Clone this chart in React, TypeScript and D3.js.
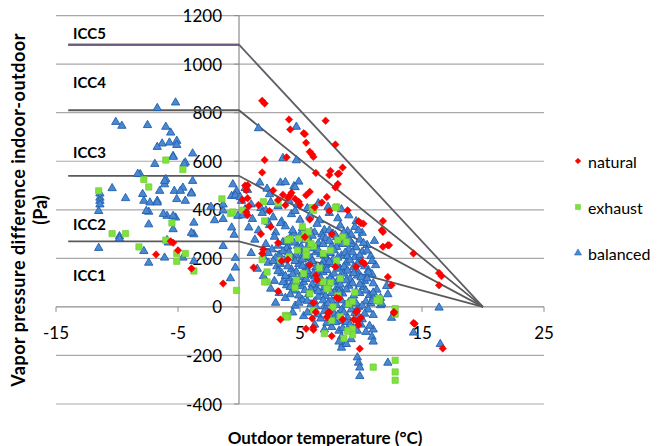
import React from 'react';
import * as d3 from 'd3';

// ---- data ----
const xTicks = [-15, -5, 5, 15, 25];
const yTicks = [-400, -200, 0, 200, 400, 600, 800, 1000, 1200];

// ICC class boundaries: flat up to 0 °C, then falling to 0 Pa at 20 °C
const iccLevels = [270, 540, 810, 1080];
const iccLabels = ['ICC1', 'ICC2', 'ICC3', 'ICC4', 'ICC5'];
const iccLabelValues = [130, 340, 640, 925, 1127];

const seriesNames = ['natural', 'exhaust', 'balanced'];

const naturalPoints: [number, number][] = [
  [1.9, 849], [2.1, 838], [4.1, 772], [4.2, 731], [7.1, 767], [5.3, 715], [5.5, 676], [5.8, 639],
  [6.1, 618], [7.9, 669], [2.1, 605], [3.9, 616], [1.9, 554], [6.3, 552], [7.5, 560], [7.4, 543],
  [8.1, 547], [8.5, 574], [8.1, 506], [7.9, 492], [7.2, 453], [5.8, 474], [5.5, 460], [4.2, 460],
  [4.0, 450], [8.2, 550], [8.9, 398], [9.8, 353], [10.0, 345], [11.8, 354], [11.7, 316], [0.7, 501],
  [0.7, 448], [0.7, 378], [3.8, 419], [4.9, 433], [5.4, 712], [6.0, 628],
  [12.2, 254], [14.3, 220], [16.4, 140], [16.6, 127], [16.4, 89], [12.2, 123], [12.5, 89], [12.7, -21],
  [14.3, -66], [16.7, -171],
  [-6.8, 216], [-5.4, 264], [-5.0, 233], [-3.9, 158], [-1.3, 96], [-5.6, 270],
  [1.2, 162], [3.2, 264], [3.5, 189], [4.0, 195], [1.9, 220], [2.0, 236], [5.8, 172], [6.3, 130],
  [6.4, 111], [7.9, 165], [8.0, 38], [6.1, 16], [6.3, -21], [6.0, -48], [7.4, -21], [8.5, -52],
  [9.4, -52], [9.6, -21], [10.0, -45], [3.4, -52], [6.1, -85], [10.3, 178], [12.3, 254], [11.8, 309],
  [3.2, 64], [7.6, 300], [5.4, 288], [9.6, 165], [10.2, 343], [11.8, 248], [10.1, 185], [8.2, 35],
  [7.2, -42], [5.5, -90], [6.1, -94], [7.6, -120], [7.3, -24], [9.7, -60], [9.8, -75],
  [9.7, -17], [9.9, -172], [14.4, -69], [12.7, -25],
  [0.5, 500], [0.6, 480], [0.3, 440], [0.8, 415], [0.6, 390],
  [3.6, 462], [4.3, 470], [4.6, 445], [5.0, 420], [3.2, 440], [2.5, 395], [1.6, 420], [2.8, 480],
  [6.8, 430], [6.2, 410], [7.4, 395], [5.8, 360], [1.8, 300], [2.6, 330],
];

const exhaustPoints: [number, number][] = [
  [-6.0, 605], [-4.6, 566], [-7.8, 525], [-7.4, 494], [-11.5, 478], [-1.4, 445], [-10.4, 302], [-9.3, 302],
  [-8.2, 247], [-5.5, 346], [-6.0, 275], [-5.1, 220], [-5.1, 188], [-3.7, 148], [-0.2, 68], [-0.7, 385],
  [-4.4, 220],
  [1.9, 195], [2.3, 103], [3.8, -35], [4.6, 80], [5.4, 300], [5.5, 232], [5.3, 137], [6.1, 250],
  [7.3, 75], [8.1, 46], [11.5, 24], [12.8, -7], [5.5, 280], [4.2, 280], [7.5, 100], [8.5, 288],
  [8.3, -40], [7.6, -56], [4.0, -39], [12.8, -220], [12.8, -268], [12.8, -302], [11.0, -248], [9.3, -90],
  [9.3, -115], [12.8, -30], [11.5, 35], [11.3, 27],
  [2.0, 433], [-0.5, 391], [0.3, 398], [2.1, 354], [4.0, 275], [4.9, 282], [5.7, 309], [5.9, 260],
  [8.0, 412], [8.1, 275], [8.8, 268], [7.5, 233], [6.9, 220], [5.5, 213], [4.8, 233], [4.1, 206],
  [3.4, 192], [2.3, 144], [2.1, 103], [4.7, 110], [5.8, 55], [6.9, 103], [7.2, 75], [8.3, 117],
  [9.0, 13], [7.7, 0], [3.9, -42], [6.1, -14], [9.3, 22], [6.0, 409], [3.2, 428], [7.9, 409],
  [5.2, 330], [6.1, 398], [8.6, -130], [8.9, -100], [6.6, 160], [8.0, 190], [9.5, 60], [7.0, -110],
];

const balancedPoints: [number, number][] = [
  // cold side
  [-5.2, 845], [-6.7, 822], [-10.1, 765], [-9.6, 749], [-7.5, 752], [-6.0, 745], [-5.6, 721], [-6.3, 676],
  [-6.7, 662], [-5.7, 680], [-5.1, 687], [-5.1, 670], [-5.4, 625], [-3.8, 635], [-4.4, 598], [-8.1, 550],
  [-6.0, 529], [-6.1, 508], [-3.8, 522], [-10.4, 492], [-9.3, 451], [-6.5, 481], [-5.3, 481], [-4.6, 494],
  [-3.9, 474], [-7.8, 440], [-7.3, 433], [-6.7, 440], [-5.1, 447], [-4.4, 440], [-11.4, 470], [-11.4, 453],
  [-11.4, 440], [-11.4, 425], [-11.5, 398], [-11.5, 246], [-7.4, 343], [-9.8, 294], [-9.8, 285], [-7.8, 233],
  [-7.4, 185], [-6.1, 206], [-5.8, 268], [-4.6, 206], [-3.7, 192], [-3.7, 302], [-1.3, 254], [-0.7, 121],
  [-0.3, 165], [-5.2, 371], [-5.9, 378], [-7.4, 395], [-3.7, 350], [-0.6, 330], [-8.3, 551], [-6.9, 592],
  [-5.4, 621], [-4.5, 593], [-6.1, 522], [-7.9, 468], [-6.7, 433], [-4.8, 481], [-3.9, 470], [-7.6, 398],
  [-6.2, 386], [-5.4, 378], [-5.4, 323], [-5.9, 278], [-3.9, 308], [-1.3, 365], [-1.3, 400], [-1.3, 425],
  [-0.6, 460], [-0.5, 508], [-0.2, 480], [-0.3, 462], [0.1, 455], [-0.4, 300], [-2.3, 415], [-2.0, 360],
  // above the main cloud
  [1.6, 739], [4.7, 745], [3.6, 616], [4.7, 607], [1.7, 515], [3.4, 515], [3.8, 517], [4.9, 519],
  [4.5, 500], [2.3, 490], [0.5, 492], [0.7, 485], [2.5, 467], [4.6, 496], [8.4, 405], [-0.1, 378],
  // main cloud
  [0.2, 440], [1.0, 425], [1.8, 410], [2.6, 435], [3.2, 418], [4.1, 440], [4.8, 425], [5.6, 410],
  [6.5, 430], [7.3, 415], [2.2, 400], [0.5, 405],
  [0.3, 380], [1.1, 365], [1.9, 390], [2.8, 372], [3.5, 355], [4.3, 385], [5.0, 362], [5.8, 378],
  [6.6, 360], [7.4, 390], [8.1, 368], [9.0, 380], [9.6, 356], [4.6, 398], [2.4, 352],
  [0.8, 330], [1.6, 318], [2.5, 340], [3.0, 310], [3.8, 335], [4.5, 305], [5.2, 328], [5.9, 312],
  [6.4, 345], [7.0, 320], [7.7, 305], [8.3, 338], [8.9, 315], [9.5, 332], [10.1, 308], [3.4, 348], [6.8, 302],
  [4.4, 318], [5.0, 300], [5.6, 292], [6.2, 310], [6.9, 292], [7.4, 318], [8.0, 290], [8.6, 310],
  [9.2, 300], [9.8, 318],
  [1.3, 280], [2.2, 262], [2.9, 292], [3.6, 270], [4.2, 288], [4.8, 255], [5.4, 278], [6.0, 296],
  [6.5, 265], [7.1, 285], [7.6, 255], [8.2, 272], [8.8, 294], [9.3, 262], [9.9, 280], [10.5, 258],
  [4.0, 252], [5.7, 258], [7.9, 298],
  [3.2, 255], [3.9, 275], [4.5, 268], [5.1, 250], [5.8, 272], [6.3, 248], [6.9, 262], [7.4, 275],
  [8.0, 250], [8.5, 262], [9.1, 276], [9.6, 248], [10.2, 266],
  [1.0, 225], [2.0, 210], [2.7, 240], [3.3, 218], [3.9, 245], [4.4, 205], [5.0, 232], [5.5, 212],
  [6.1, 244], [6.7, 220], [7.2, 203], [7.8, 236], [8.4, 215], [9.0, 242], [9.5, 208], [10.1, 230],
  [10.8, 212], [3.6, 232], [6.3, 228], [8.7, 226], [-0.3, 205],
  [2.4, 225], [3.0, 205], [4.1, 228], [4.7, 215], [5.3, 222], [5.9, 205], [6.5, 236], [7.0, 215],
  [7.5, 225], [8.1, 206], [8.9, 212], [9.3, 228], [9.9, 215], [10.5, 235],
  [1.5, 160], [2.4, 185], [3.1, 170], [3.7, 195], [4.3, 158], [4.9, 180], [5.5, 165], [6.0, 192],
  [6.6, 152], [7.1, 175], [7.7, 198], [8.3, 160], [8.8, 185], [9.4, 168], [10.0, 190], [10.6, 155],
  [11.2, 175], [5.2, 198], [6.9, 188], [9.7, 150],
  [2.8, 192], [3.4, 180], [4.0, 170], [4.6, 192], [5.2, 172], [5.8, 182], [6.3, 165], [6.8, 172],
  [7.4, 188], [8.0, 178], [8.6, 168], [9.1, 195], [9.7, 180], [10.3, 170], [10.9, 192],
  [2.0, 130], [2.9, 110], [3.5, 142], [4.1, 120], [4.7, 148], [5.3, 105], [5.8, 135], [6.4, 115],
  [6.9, 146], [7.5, 125], [8.0, 104], [8.6, 140], [9.1, 118], [9.7, 132], [10.3, 110], [10.9, 138],
  [4.4, 102], [7.2, 108], [6.2, 128],
  [3.2, 150], [3.8, 130], [4.4, 138], [5.0, 125], [5.6, 150], [6.1, 140], [6.7, 122], [7.2, 155],
  [7.8, 140], [8.3, 128], [8.9, 152], [9.4, 142], [10.0, 125], [10.6, 145],
  [2.6, 78], [3.3, 60], [3.9, 92], [4.5, 70], [5.1, 88], [5.7, 55], [6.3, 80], [6.8, 62],
  [7.3, 96], [7.9, 72], [8.5, 58], [9.0, 90], [9.6, 66], [10.2, 85], [10.7, 52], [11.3, 74],
  [5.4, 72], [8.2, 84],
  [3.6, 105], [4.2, 85], [4.8, 100], [5.5, 118], [6.0, 95], [6.6, 100], [7.0, 85], [7.7, 110],
  [8.3, 95], [8.8, 112], [9.3, 100], [9.9, 96], [10.5, 120], [11.0, 100],
  [3.0, 20], [3.8, 40], [4.6, 8], [5.2, 32], [5.9, 14], [6.5, 45], [7.0, 5], [7.6, 28],
  [8.1, 48], [8.7, 12], [9.3, 35], [9.8, 2], [10.4, 25], [11.0, 42], [11.6, 10], [6.2, 25],
  [4.2, 55], [4.9, 50], [5.9, 75], [6.5, 68], [7.1, 48], [7.6, 60], [8.2, 65], [8.8, 75],
  [9.4, 50], [9.9, 60], [10.4, 70], [11.0, 62],
  [4.9, 20], [5.6, 28], [6.3, 5], [6.9, 30], [7.3, 18], [8.0, 10], [8.4, 30], [9.0, 22],
  [9.6, 18], [10.1, 8], [10.8, 18],
  [4.4, -20], [5.3, -35], [6.0, -12], [6.7, -45], [7.2, -63], [7.8, -25], [8.4, -10], [8.9, -40],
  [9.5, -22], [10.1, -48], [10.6, -8], [11.0, -30],
  [5.6, -20], [6.4, -28], [7.0, -15], [7.5, -40], [8.1, -30], [8.6, -20], [9.2, -8], [9.8, -35],
  [10.3, -25], [8.2, -55],
  [6.2, -70], [7.6, -80], [8.2, -95], [8.8, -60], [9.4, -85], [10.0, -70], [11.0, -90], [10.4, -100],
  [7.0, -90], [7.9, -60], [8.5, -85], [9.1, -70], [9.7, -95], [10.7, -75],
  // lower tail and warm side
  [8.4, -120], [8.5, -150], [8.4, -165], [9.2, -130], [10.9, -120], [11.0, -140], [9.7, -205], [9.8, -227],
  [9.9, -247], [9.9, -282], [12.2, -227], [12.5, -42], [14.3, -103], [16.5, -150], [8.2, -140], [8.8, -150],
  [11.1, 275], [12.1, 89], [12.2, 55], [11.6, 40], [16.4, 0], [11.7, 16], [10.9, 27],
];

const W = 658;
const H = 446;

const x = d3.scaleLinear().domain([-15, 25]).range([56, 544]);
const y = d3.scaleLinear().domain([-400, 1200]).range([404, 15.6]);

const FONT = 'Lato, "Open Sans", sans-serif';

const triangle = d3.symbol(d3.symbolTriangle, 30)()!;
const square = d3.symbol(d3.symbolSquare, 40)()!;
const diamond = d3.symbol(d3.symbolSquare, 28)()!; // rotated 45° below

const legendTriangle = d3.symbol(d3.symbolTriangle, 22)()!;
const legendSquare = d3.symbol(d3.symbolSquare, 26)()!;
const legendDiamond = d3.symbol(d3.symbolSquare, 16)()!;

const styles = {
  natural: { fill: '#ff0000', stroke: '#e80000' },
  exhaust: { fill: '#7fe23c', stroke: '#6cc834' },
  balanced: { fill: '#4a88d2', stroke: '#1f5fae' },
};

export default function App() {
  const x0 = x(0);
  const y0 = y(0);

  const iccPath = (v: number) => {
    const line = d3.line<[number, number]>().x(d => x(d[0])).y(d => y(d[1]));
    return line([[-14, v], [0, v], [20, 0]]) || '';
  };

  return (
    <svg width={W} height={H} style={{ position: 'absolute', left: 0, top: 0, background: '#fff' }}
      fontFamily={FONT}>
      {/* gridlines */}
      {yTicks.map(t => (
        <line key={'g' + t} x1={x(-15)} x2={x(25)} y1={y(t)} y2={y(t)}
          stroke={t === 0 ? '#8c8c8c' : '#a8a8a8'} strokeWidth={1.2} />
      ))}
      {/* vertical axis at 0 °C */}
      <line x1={x0} x2={x0} y1={y(1200)} y2={y(-400)} stroke="#8c8c8c" strokeWidth={1.2} />
      {yTicks.map(t => (
        <line key={'yt' + t} x1={x0 - 5} x2={x0} y1={y(t)} y2={y(t)} stroke="#8c8c8c" />
      ))}
      {xTicks.map(t => (
        <line key={'xt' + t} x1={x(t)} x2={x(t)} y1={y0} y2={y0 + 5} stroke="#8c8c8c" />
      ))}

      {/* tick labels */}
      {yTicks.map(t => (
        <text key={'yl' + t} x={222} y={y(t)} textAnchor="end" dominantBaseline="central"
          fontSize={17} fill="#000">{t}</text>
      ))}
      {xTicks.map(t => (
        <text key={'xl' + t} x={x(t)} y={y0 + 26} textAnchor="middle" dominantBaseline="central"
          fontSize={17} fill="#000">{t}</text>
      ))}

      {/* ICC boundaries */}
      {iccLevels.map((v, i) => (
        <path key={'icc' + v} d={iccPath(v)} fill="none"
          stroke={i === 3 ? '#5e5e66' : '#5a5a5a'} strokeWidth={1.8} />
      ))}
      <line x1={x(-14)} x2={x(0)} y1={y(1080)} y2={y(1080)} stroke="#6d5a80" strokeWidth={1.8} />
      {iccLabels.map((lab, i) => (
        <text key={lab} x={x(-13.6)} y={y(iccLabelValues[i])} dominantBaseline="central"
          fontSize={15} fontWeight="bold" fill="#000">{lab}</text>
      ))}

      {/* series */}
      <g>
        {balancedPoints.map((d, i) => (
          <path key={'b' + i} d={triangle} transform={`translate(${x(d[0])},${y(d[1]) + 0.8})`}
            fill={styles.balanced.fill} stroke={styles.balanced.stroke} strokeWidth={0.9} />
        ))}
      </g>
      <g>
        {exhaustPoints.map((d, i) => (
          <path key={'e' + i} d={square} transform={`translate(${x(d[0])},${y(d[1])})`}
            fill={styles.exhaust.fill} stroke={styles.exhaust.stroke} strokeWidth={0.6} />
        ))}
      </g>
      <g>
        {naturalPoints.map((d, i) => (
          <path key={'n' + i} d={diamond} transform={`translate(${x(d[0])},${y(d[1])}) rotate(45)`}
            fill={styles.natural.fill} stroke={styles.natural.stroke} strokeWidth={0.5} />
        ))}
      </g>

      {/* legend */}
      {seriesNames.map((name, i) => {
        const ly = 161 + i * 46;
        const sym = i === 0 ? legendDiamond : i === 1 ? legendSquare : legendTriangle;
        const st = styles[name as keyof typeof styles];
        return (
          <g key={name} transform={`translate(578,${ly})`}>
            <path d={sym} transform={i === 0 ? 'rotate(45)' : undefined} fill={st.fill} stroke={st.stroke}
              strokeWidth={0.5} />
            <text x={10} y={0} dominantBaseline="central" fontSize={16} fill="#000">{name}</text>
          </g>
        );
      })}

      {/* axis titles */}
      <g transform="translate(18,210) rotate(-90)">
        <text textAnchor="middle" dominantBaseline="central" fontSize={18} fontWeight="bold"
          letterSpacing={0.5}>
          Vapor pressure difference indoor-outdoor
        </text>
      </g>
      <g transform="translate(40,210) rotate(-90)">
        <text textAnchor="middle" dominantBaseline="central" fontSize={18} fontWeight="bold">(Pa)</text>
      </g>
      <text x={325} y={437} textAnchor="middle" dominantBaseline="central" fontSize={17} fontWeight="bold">
        Outdoor temperature (°C)
      </text>
    </svg>
  );
}
